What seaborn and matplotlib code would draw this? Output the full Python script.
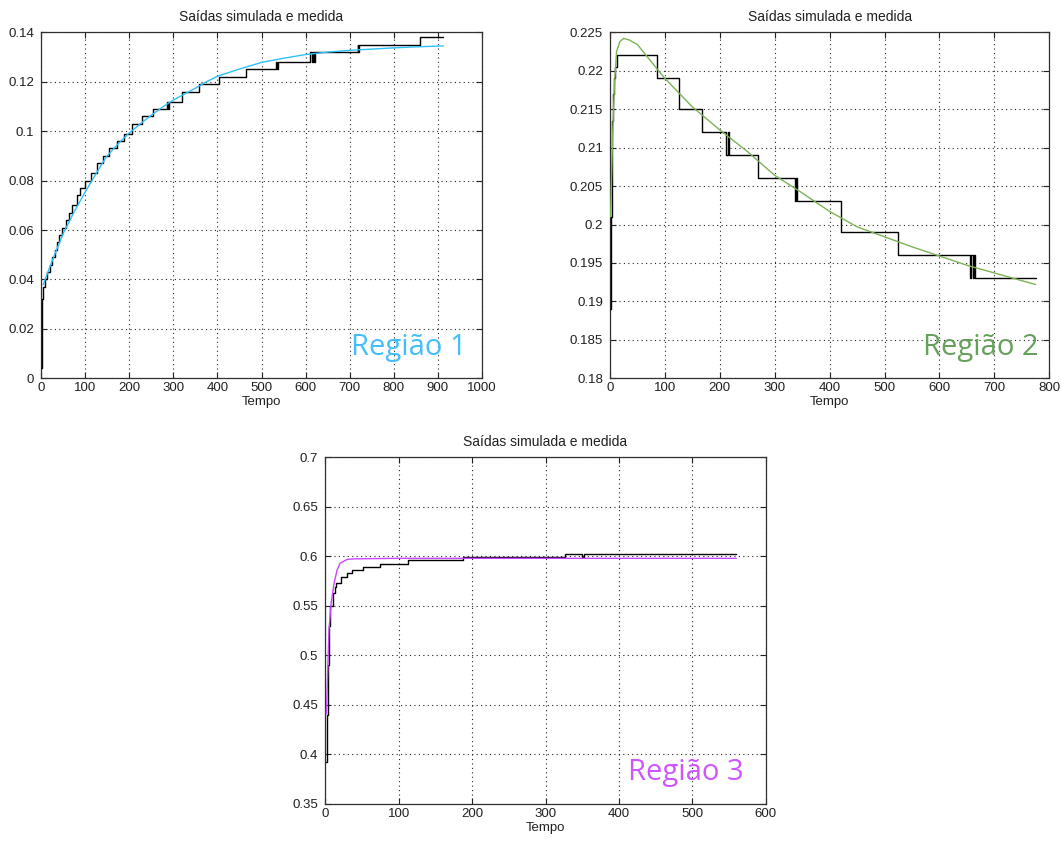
import matplotlib
matplotlib.use("Agg")
import matplotlib.pyplot as plt
import seaborn as sns
import pandas as pd

# ---------------- data ----------------
title_txt = "Saídas simulada e medida"
xlabel_txt = "Tempo"

# Region 1 measured (steps)
r1_meas_t = [0, 1, 2, 3, 8, 13, 19, 25, 31, 36, 41, 46, 55, 63, 69, 80, 88, 99, 112, 126,
             139, 154, 171, 188, 207, 228, 254, 285, 288, 290, 319, 358, 404, 465, 533, 535, 537,
             611, 614, 617, 619, 621, 718, 720, 722, 860, 913]
r1_meas_y = [0.004, 0.020, 0.032, 0.037, 0.040, 0.043, 0.046, 0.049, 0.052, 0.055, 0.058, 0.061,
             0.064, 0.067, 0.070, 0.074, 0.077, 0.080, 0.083, 0.087, 0.090, 0.093, 0.096, 0.099,
             0.103, 0.106, 0.109, 0.112, 0.109, 0.112, 0.116, 0.119, 0.122, 0.125, 0.128, 0.125,
             0.128, 0.132, 0.128, 0.132, 0.128, 0.132, 0.135, 0.132, 0.135, 0.138, 0.138]
# Region 1 simulated
r1_sim_t = [4, 27, 50, 75, 100, 125, 148, 175, 198, 225, 250, 275, 300, 325, 349, 375, 400,
            451, 500, 550, 600, 651, 700, 750, 800, 850, 913]
r1_sim_y = [0.0378, 0.0486, 0.0587, 0.0675, 0.0755, 0.0830, 0.0897, 0.0950, 0.0990, 0.1030,
            0.1065, 0.1097, 0.1126, 0.1150, 0.1173, 0.1200, 0.1222, 0.1252, 0.1278, 0.1295,
            0.1310, 0.1320, 0.1327, 0.1332, 0.1337, 0.1341, 0.1345]

# Region 2 measured (steps)
r2_meas_t = [0, 1, 3, 5, 8, 10, 12, 85, 126, 168, 212, 214, 216, 270, 336, 338, 340,
             420, 525, 655, 658, 661, 663, 665, 775]
r2_meas_y = [0.189, 0.201, 0.2135, 0.217, 0.219, 0.2205, 0.222, 0.219, 0.215, 0.212, 0.209,
             0.212, 0.209, 0.206, 0.203, 0.206, 0.203, 0.199, 0.196, 0.193, 0.196, 0.193, 0.196,
             0.193, 0.193]
# Region 2 simulated
r2_sim_t = [1, 3, 5, 8, 12, 18, 25, 35, 50, 85, 100, 150, 200, 250, 300, 350, 400, 450, 500,
            550, 600, 650, 700, 775]
r2_sim_y = [0.2010, 0.2065, 0.2120, 0.2180, 0.2225, 0.2238, 0.2242, 0.2240, 0.2234, 0.2203,
            0.2190, 0.2153, 0.2123, 0.2095, 0.2064, 0.2041, 0.2017, 0.1997, 0.1984, 0.1971,
            0.1959, 0.1947, 0.1937, 0.1922]

# Region 3 measured (steps)
r3_meas_t = [1, 2, 3, 5, 7, 10, 13, 15, 22, 29, 36, 52, 75, 113, 188, 327, 350, 353, 560]
r3_meas_y = [0.392, 0.440, 0.490, 0.530, 0.550, 0.563, 0.569, 0.573, 0.5795, 0.583, 0.5863,
             0.5897, 0.5924, 0.5964, 0.5997, 0.6024, 0.5997, 0.6024, 0.6024]
# Region 3 simulated
r3_sim_t = [1.5, 3, 5, 8, 12, 16, 20, 30, 40, 100, 200, 300, 400, 560]
r3_sim_y = [0.441, 0.477, 0.526, 0.553, 0.573, 0.586, 0.593, 0.597, 0.5975, 0.598, 0.598,
            0.598, 0.598, 0.598]

r1_xticks = [0, 100, 200, 300, 400, 500, 600, 700, 800, 900, 1000]
r1_yticks = [0, 0.02, 0.04, 0.06, 0.08, 0.1, 0.12, 0.14]
r1_ylabels = ["0", "0.02", "0.04", "0.06", "0.08", "0.1", "0.12", "0.14"]
r2_xticks = [0, 100, 200, 300, 400, 500, 600, 700, 800]
r2_yticks = [0.18, 0.185, 0.19, 0.195, 0.2, 0.205, 0.21, 0.215, 0.22, 0.225]
r2_ylabels = ["0.18", "0.185", "0.19", "0.195", "0.2", "0.205", "0.21", "0.215", "0.22", "0.225"]
r3_xticks = [0, 100, 200, 300, 400, 500, 600]
r3_yticks = [0.35, 0.4, 0.45, 0.5, 0.55, 0.6, 0.65, 0.7]
r3_ylabels = ["0.35", "0.4", "0.45", "0.5", "0.55", "0.6", "0.65", "0.7"]

region_labels = ["Região 1", "Região 2", "Região 3"]
sim_colors = ["#2EC0F8", "#7CB356", "#CC44FF"]
label_colors = ["#44BEFA", "#66A05C", "#D055FF"]

# ---------------- style ----------------
sns.set_theme(style="white")
plt.rcParams["font.family"] = ["Liberation Sans", "DejaVu Sans"]
plt.rcParams.update({
    "xtick.direction": "in", "ytick.direction": "in",
    "xtick.top": True, "ytick.right": True,
    "xtick.bottom": True, "ytick.left": True,
    "xtick.major.size": 4, "ytick.major.size": 4,
    "xtick.major.width": 0.8, "ytick.major.width": 0.8,
    "axes.edgecolor": "#303030", "axes.linewidth": 0.9,
    "xtick.color": "#202020", "ytick.color": "#202020",
    "xtick.labelsize": 9.5, "ytick.labelsize": 9.5,
})

fig = plt.figure(figsize=(10.61, 8.41), dpi=100)
ax1 = fig.add_axes([41.3 / 1061, 1 - 378.3 / 841, 440.4 / 1061, 346.0 / 841])
ax2 = fig.add_axes([610.0 / 1061, 1 - 378.3 / 841, 439.3 / 1061, 346.0 / 841])
ax3 = fig.add_axes([325.3 / 1061, 1 - 804.0 / 841, 440.4 / 1061, 346.7 / 841])

specs = [
    (ax1, r1_meas_t, r1_meas_y, r1_sim_t, r1_sim_y, r1_xticks, r1_yticks, r1_ylabels,
     (0, 1000), (0, 0.14), (0.965, 0.068)),
    (ax2, r2_meas_t, r2_meas_y, r2_sim_t, r2_sim_y, r2_xticks, r2_yticks, r2_ylabels,
     (0, 800), (0.18, 0.225), (0.975, 0.068)),
    (ax3, r3_meas_t, r3_meas_y, r3_sim_t, r3_sim_y, r3_xticks, r3_yticks, r3_ylabels,
     (0, 600), (0.35, 0.7), (0.95, 0.07)),
]

for i, (ax, mt, my, st, sy, xt, yt, yl, xlim, ylim, tpos) in enumerate(specs):
    ax.set_facecolor("white")
    ax.grid(True, color="#222222", linestyle=(0, (1, 3)), linewidth=0.8)
    ax.set_axisbelow(True)
    sns.lineplot(x=mt, y=my, ax=ax, color="black", linewidth=1.0,
                 drawstyle="steps-post", estimator=None, sort=False, zorder=3)
    sns.lineplot(x=st, y=sy, ax=ax, color=sim_colors[i], linewidth=1.0,
                 estimator=None, sort=False, zorder=4)
    ax.set_xlim(*xlim)
    ax.set_ylim(*ylim)
    ax.set_xticks(xt)
    ax.set_xticklabels([str(v) for v in xt])
    ax.set_yticks(yt)
    ax.set_yticklabels(yl)
    ax.tick_params(axis="y", pad=5)
    ax.tick_params(axis="x", pad=3)
    ax.set_title(title_txt, fontsize=10, pad=8, color="#202020")
    ax.set_xlabel(xlabel_txt, fontsize=9.5, labelpad=1, color="#202020")
    ax.set_ylabel("")
    for sp in ax.spines.values():
        sp.set_visible(True)
    ax.text(tpos[0], tpos[1], region_labels[i], transform=ax.transAxes,
            ha="right", va="baseline", fontsize=21, family="Open Sans",
            color=label_colors[i], zorder=5)

fig.savefig("out.png", dpi=100, facecolor="white")
